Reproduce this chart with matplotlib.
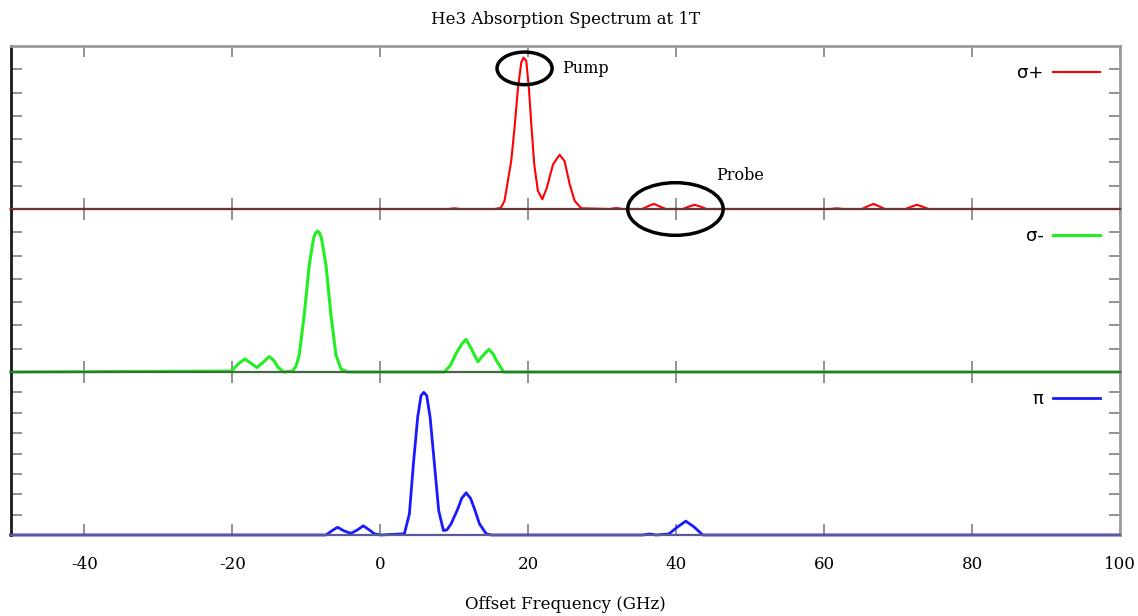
import numpy as np
import matplotlib.pyplot as plt
from matplotlib.patches import Ellipse

# spectrum values (GHz, arb. units)
red_x = [-50, 9.2, 10.0, 10.8, 15.5, 16.3, 16.79, 17.69, 18.14, 18.6, 19.05, 19.36,
         19.73, 20.09, 20.45, 20.81, 21.3, 21.9, 22.52, 23.34, 24.24, 24.92, 25.6,
         26.27, 27.17, 31.0, 31.9, 32.8, 35.4, 36.2, 36.97, 37.7, 38.6, 40.9, 41.7,
         42.5, 43.3, 44.1, 60.8, 61.7, 62.6, 65.1, 65.9, 66.67, 67.4, 68.2, 71.0,
         71.8, 72.54, 73.3, 74.1, 100]
red_y = [0, 0, 0.03, 0, 0, 0.05, 0.35, 2.05, 3.47, 5.16, 6.29, 6.5,
         6.36, 5.16, 3.47, 1.91, 0.78, 0.42, 0.92, 1.91, 2.33, 2.05, 1.06,
         0.35, 0.03, 0, 0.04, 0, 0, 0.12, 0.22, 0.12, 0, 0, 0.1,
         0.18, 0.1, 0, 0, 0.03, 0, 0, 0.12, 0.22, 0.12, 0, 0,
         0.1, 0.18, 0.1, 0, 0]

green_x = [-50, -20.13, -19.2, -18.32, -17.5, -16.7, -15.9, -15.03, -14.4, -13.9,
           -13.09, -11.87, -11.4, -10.97, -10.29, -9.61, -9.03, -8.75, -8.49, -8.23,
           -7.95, -7.35, -6.68, -6.0, -5.32, -4.42, 8.67, 9.5, 10.25, 11.0, 11.6,
           12.3, 13.18, 14.0, 14.67, 15.2, 15.66, 16.66, 100]
green_y = [0, 0.04, 0.35, 0.56, 0.38, 0.19, 0.4, 0.66, 0.5, 0.23,
           0, 0.04, 0.25, 0.73, 2.45, 4.59, 5.74, 5.97, 6.05, 5.97,
           5.74, 4.59, 2.45, 0.73, 0.13, 0, 0, 0.3, 0.8, 1.2, 1.4,
           1.0, 0.44, 0.75, 0.97, 0.8, 0.51, 0, 0]

blue_x = [-50, -7.35, -6.5, -5.78, -4.9, -3.97, -3.1, -2.3, -1.5, -0.81, 0, 3.25,
          3.93, 4.47, 5.05, 5.5, 5.87, 6.27, 6.73, 7.31, 7.89, 8.53, 9.0, 9.57,
          10.47, 11.0, 11.6, 12.2, 12.73, 13.4, 14.31, 15.0, 35.5, 36.4, 37.3,
          39.0, 40.2, 41.3, 42.4, 43.6, 100]
blue_y = [0, 0, 0.22, 0.38, 0.2, 0.08, 0.25, 0.45, 0.25, 0.06, 0, 0.06,
          1.04, 3.49, 5.78, 6.84, 7.0, 6.84, 5.78, 3.49, 1.2, 0.22, 0.25, 0.55,
          1.28, 1.8, 2.07, 1.8, 1.28, 0.55, 0.06, 0, 0, 0.05, 0,
          0.05, 0.4, 0.68, 0.4, 0, 0]

labels = ['σ+', 'σ-', 'π']
xticks = [-40, -20, 0, 20, 40, 60, 80, 100]

plt.rcParams['font.family'] = 'DejaVu Serif'

fig, axs = plt.subplots(3, 1, sharex=True, figsize=(11.38, 6.16), dpi=100)
fig.subplots_adjust(left=10.5/1138, right=1120/1138, top=1-46/616, bottom=1-535/616, hspace=0)

series = [(red_x, red_y, '#ff0000', 1.5, 7, '#6b3535'),
          (green_x, green_y, '#22ee22', 2.2, 7, '#3d6b3d'),
          (blue_x, blue_y, '#1a1aff', 2.0, 8, '#5a5a96')]

for i, (ax, (xs, ys, col, lw, ytop, base_col)) in enumerate(zip(axs, series)):
    ax.plot(xs, ys, color=col, lw=lw, clip_on=False, label=labels[i])
    ax.set_xlim(-50, 100)
    ax.set_ylim(0, ytop)
    ax.set_yticks(range(1, ytop))
    ax.set_yticklabels([])
    ax.set_xticks(xticks)
    ax.set_facecolor('none')
    ax.tick_params(axis='both', direction='in', length=8, width=1.3, color='#8a8a8a',
                   top=True, right=True, labelsize=12, pad=15)
    ax.spines['left'].set_color('#1a1a1a')
    ax.spines['left'].set_linewidth(2)
    ax.spines['right'].set_color('#9a9a9a')
    ax.spines['right'].set_linewidth(2)
    ax.spines['top'].set_color('#9a9a9a')
    ax.spines['top'].set_linewidth(2)
    if i > 0:
        ax.spines['top'].set_visible(False)
    ax.spines['bottom'].set_color(base_col)
    ax.spines['bottom'].set_linewidth(1.6)
    ax.set_zorder(3 - i)
    ax.legend(loc='upper right', bbox_to_anchor=(0.997, 0.99), markerfirst=False,
              frameon=False, handlelength=2.6, handletextpad=0.55,
              prop={'family': 'DejaVu Sans', 'size': 13})

axs[2].set_xticklabels([str(t) for t in xticks])
axs[2].set_xlabel('Offset Frequency (GHz)', fontsize=12, labelpad=17)
axs[0].set_title('He3 Absorption Spectrum at 1T', fontsize=12, pad=16)

# pump / probe markers
ax = axs[0]
ax.add_patch(Ellipse((19.5, 6.04), 7.45, 1.4, fill=False, ec='black', lw=2.5, clip_on=False, zorder=5))
ax.add_patch(Ellipse((39.9, 0.0), 12.9, 2.26, fill=False, ec='black', lw=2.5, clip_on=False, zorder=5))
ax.text(24.6, 6.02, 'Pump', ha='left', va='center', fontsize=11.5)
ax.text(45.4, 1.42, 'Probe', ha='left', va='center', fontsize=11.5)

plt.savefig('out.png', dpi=100, facecolor='white')
